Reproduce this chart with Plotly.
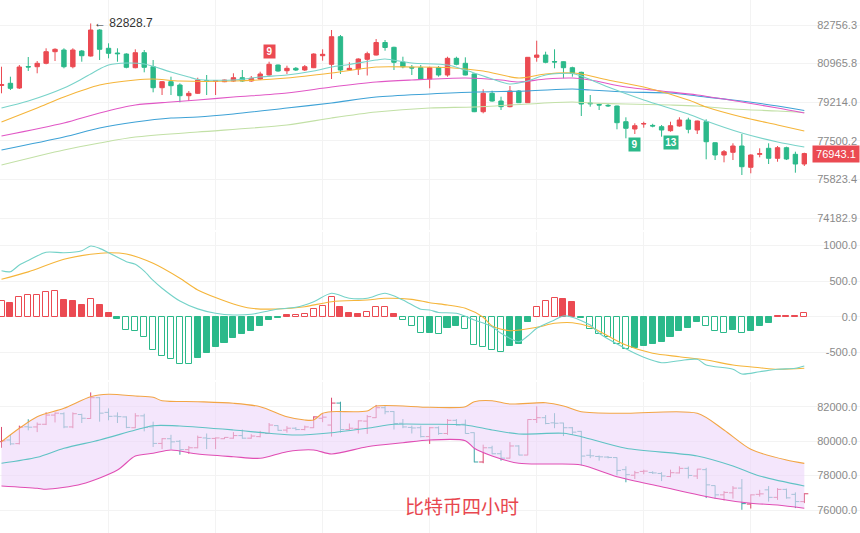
import math
import plotly.graph_objects as go
from plotly.subplots import make_subplots

# ---------------- data ----------------
open_ = [79968, 80067, 79854, 80833, 80824, 80980, 81514, 81592, 80824, 81546,
         81315, 82522, 81671, 81454, 81407, 80778, 81468, 80824, 79868, 80140,
         79990, 79507, 79615, 80185, 80158, 80140, 80172, 80322, 80172, 80263,
         80445, 80902, 80641, 80751, 80673, 80778, 81329, 80934, 82210, 80673,
         80719, 81163, 81361, 81940, 81717, 81039, 80797, 80778, 80263, 80778,
         80445, 81209, 80980, 80491, 78789, 79615, 79268, 79013, 79719, 79192,
         81255, 81361, 81062, 81053, 80778, 80568, 79179, 79111, 79076, 79044,
         78344, 78021, 78242, 78180, 78123, 77946, 78154, 78420, 77977, 78344,
         77417, 76880, 76998, 77273, 76346, 76910, 77172, 76736, 77199, 76910,
         76489]
high = [80824, 80368, 80902, 81269, 81085, 81671, 81671, 81671, 81671, 81592,
        82828.7, 82560, 81903, 81671, 81440, 81625, 81592, 81131, 80172, 80368,
        80067, 79719, 80322, 80445, 80217, 80231, 80523, 80673, 80400, 80595,
        81053, 80920, 80870, 80810, 80902, 81440, 81625, 82522, 82289, 81025,
        81209, 81514, 82102, 82056, 81745, 81283, 80902, 80902, 80824, 80856,
        81283, 81283, 81255, 80510, 79795, 79732, 79462, 79945, 79764, 81270,
        82024, 81514, 81625, 81070, 80824, 80595, 79538, 79165, 79134, 79060,
        78540, 78273, 78344, 78251, 78198, 78344, 78540, 78522, 78390, 78451,
        77430, 77098, 77391, 77800, 76910, 77172, 77391, 77273, 77243, 77024,
        76980]
low = [79615, 79764, 79809, 80627, 80523, 80934, 81085, 80751, 80751, 81053,
       81290, 81131, 81209, 81053, 80751, 80751, 80568, 79660, 79538, 79538,
       79210, 79268, 79584, 79538, 79538, 80120, 80140, 80140, 80140, 80217,
       80413, 80595, 80491, 80627, 80627, 80760, 81099, 80263, 80491, 80627,
       80445, 80422, 81340, 81560, 80673, 80751, 80445, 80217, 79841, 80368,
       80368, 80888, 80430, 78770, 78718, 79237, 78865, 78986, 79179, 79180,
       81053, 80980, 80751, 80295, 80368, 78598, 79013, 78865, 79000, 78008,
       77611, 77800, 78078, 78096, 77681, 77902, 78123, 77831, 77800, 76693,
       76662, 76562, 76662, 76014, 76087, 76780, 76489, 76588, 76662, 76113,
       76402]
close = [80013, 79841, 80810, 80810, 80980, 81514, 81625, 80824, 81592, 81329,
         82522, 81625, 81440, 81422, 80797, 81468, 80797, 79868, 80140, 79959,
         79507, 79615, 80217, 80158, 80185, 80217, 80322, 80172, 80295, 80491,
         80934, 80627, 80751, 80673, 80824, 81407, 81393, 82210, 80673, 80751,
         81177, 81422, 81940, 81708, 81025, 80824, 80765, 80263, 80778, 80445,
         81209, 80934, 80445, 78789, 79615, 79268, 79013, 79719, 79192, 81255,
         81361, 81025, 81039, 80778, 80523, 79134, 79147, 79089, 79053, 78300,
         78052, 78167, 78260, 78154, 77977, 78167, 78420, 78008, 78375, 77461,
         76880, 77024, 77273, 76372, 76880, 76937, 76736, 77199, 76706, 76489,
         76943.1]

# moving averages on the price panel (candle index, value)
ma1_i = [0, 3, 7, 9, 10, 11, 12, 14, 16, 19, 21, 22, 26, 29, 32, 35, 37, 39, 42, 43, 46,
         50, 52, 55, 57, 59, 61, 64, 65, 68, 72, 77, 79, 83, 87, 90]
ma1_v = [78955, 79268, 79854, 80263, 80491, 80719, 80902, 80994, 80948, 80582, 80354,
         80240, 80217, 80354, 80445, 80627, 80810, 80925, 81131, 81177, 80994, 80902,
         80673, 80263, 80036, 80172, 80445, 80514, 80400, 79899, 79313, 78687, 78375,
         77844, 77448, 77229]
ma2_i = [0, 4, 7, 11, 15, 17, 20, 26, 32, 37, 42, 46, 50, 54, 58, 61, 64, 65, 68, 72, 77,
         79, 83, 87, 90]
ma2_v = [78331, 78955, 79448, 79990, 80217, 80263, 80172, 80172, 80308, 80536, 80810,
         80810, 80787, 80627, 80308, 80491, 80536, 80491, 80217, 79899, 79313, 79000,
         78553, 78198, 77933]
ma3_i = [0, 7, 11, 15, 19, 22, 26, 32, 37, 42, 46, 52, 56, 58, 61, 64, 66, 70, 74, 78, 83,
         87, 90]
ma3_v = [77712, 78287, 78732, 79089, 79223, 79313, 79448, 79628, 79899, 80126, 80217,
         80308, 80217, 80126, 80263, 80308, 80217, 79899, 79719, 79538, 79223, 78955,
         78732]
ma4_i = [0, 7, 11, 15, 19, 22, 26, 32, 37, 42, 48, 53, 59, 64, 66, 70, 75, 78, 82, 87, 90]
ma4_v = [77098, 77668, 78065, 78331, 78509, 78553, 78687, 78955, 79179, 79448, 79584,
         79674, 79719, 79809, 79764, 79674, 79628, 79493, 79313, 79044, 78843]
ma5_i = [0, 7, 11, 15, 22, 32, 37, 42, 48, 53, 59, 64, 66, 70, 75, 78, 82, 87, 90]
ma5_v = [76446, 77098, 77404, 77668, 77888, 78198, 78509, 78776, 78955, 79000, 79134,
         79223, 79179, 79134, 79089, 79044, 78910, 78821, 78754]

price_ticks = [82756.3, 80965.8, 79214.0, 77500.2, 75823.4, 74182.9]
last_price = 76943.1
high_label = 82828.7

# MACD histogram (one per candle) and lines
macd_hist = [220, 187, 272, 304, 306, 351, 355, 234, 220, 164,
             243, 164, 56, -37, -187, -197, -290, -468, -553, -600,
             -665, -668, -576, -506, -422, -375, -295, -248, -197, -131,
             -47, -19, 19, 20, 37, 112, 155, 272, 140, 47,
             37, 66, 131, 133, 37, -47, -131, -234, -225, -244,
             -164, -131, -178, -398, -431, -468, -501, -407, -384, -80,
             131, 225, 258, 243, 201, -23, -173, -244, -290, -384,
             -459, -445, -412, -389, -361, -281, -197, -155, -70, -131,
             -201, -234, -187, -236, -197, -131, -94, 9, 8, 5,
             56]
dif_i = [0, 1, 2, 3, 5, 7, 9, 10, 11, 12, 14, 15, 16, 17, 18, 20, 22, 24, 26, 28, 30, 31,
         33, 35, 37, 39, 41, 43, 45, 47, 48, 49, 51, 53, 55, 56, 58, 59, 60, 62, 63, 64,
         66, 67, 70, 72, 74, 76, 78, 79, 82, 83, 85, 87, 89, 90]
dif_v = [646, 632, 726, 790, 905, 899, 927, 993, 960, 900, 773, 736, 640, 510, 400, 220,
         110, 48, 24, 34, 84, 108, 132, 211, 329, 259, 259, 329, 235, 104, 94, 60, 48,
         -46, -141, -233, -351, -271, -163, -46, 10, -8, -117, -233, -450, -570, -646,
         -618, -599, -679, -739, -805, -773, -739, -725, -693]
dea_i = [0, 3, 7, 10, 12, 14, 17, 20, 22, 26, 28, 31, 34, 37, 41, 43, 46, 48, 50, 52, 54,
         55, 57, 60, 62, 64, 66, 68, 70, 73, 76, 79, 82, 85, 87, 90]
dea_v = [525, 630, 806, 877, 899, 881, 750, 540, 375, 178, 118, 108, 140, 211, 235, 259,
         244, 197, 164, 118, -8, -131, -197, -149, -93, -84, -141, -271, -398, -514,
         -562, -608, -679, -717, -739, -725]
macd_ticks = [1000, 500, 0, -500]

# Bollinger bands on the lower panel
bbu_i = [0, 2, 4, 7, 10, 12, 15, 17, 18, 22, 26, 29, 32, 34, 35, 36, 37, 41, 42, 48, 52,
         53, 55, 57, 61, 63, 65, 70, 78, 81, 84, 88, 90]
bbu_v = [79968, 80746, 81419, 81907, 82581, 82720, 82621, 82546, 82348, 82290, 82197,
         82000, 81419, 81228, 81228, 81617, 81710, 81750, 82041, 81965, 82000, 82290,
         82348, 82157, 82232, 82041, 81710, 81617, 81617, 80647, 79526, 78905, 78711]
bbm_i = [0, 4, 7, 11, 15, 17, 20, 26, 30, 33, 37, 41, 44, 48, 52, 55, 58, 63, 65, 70, 78,
         82, 85, 90]
bbm_v = [78713, 79062, 79584, 80066, 80647, 80897, 80879, 80647, 80455, 80357, 80490,
         80746, 80978, 80978, 80937, 80647, 80415, 80455, 80258, 79584, 79137, 78557,
         77976, 77395]
bbl_i = [0, 4, 5, 9, 13, 15, 17, 19, 22, 26, 29, 32, 35, 37, 41, 45, 48, 52, 53, 55, 58,
         62, 65, 69, 74, 80, 84, 87, 90]
bbl_v = [77395, 77261, 77203, 77511, 78324, 79137, 79294, 79486, 79253, 79097, 79004,
         79387, 79486, 79253, 79677, 79910, 80066, 80026, 79584, 79137, 78713, 78673,
         78614, 77935, 77354, 76681, 76391, 76292, 76100]
bb_ticks = [82000, 80000, 78000, 76000]

title_text = "比特币四小时"

# ---------------- styling ----------------
RED = "#eb4a52"
GREEN = "#2bb98a"
NARROW = "Liberation Sans Narrow, Arial Narrow, Liberation Sans, Arial, sans-serif"
TICKC = "#8a8a8a"
GRID = "#f3f3f3"

idx = list(range(len(close)))
W, H = 860, 533

fig = make_subplots(rows=3, cols=1, shared_xaxes=True, vertical_spacing=0.0)

# price panel: moving averages
ma_styles = [(ma5_i, ma5_v, "#c2e0a6"), (ma4_i, ma4_v, "#3ea2d6"),
             (ma3_i, ma3_v, "#e158c6"), (ma2_i, ma2_v, "#f5b53a"),
             (ma1_i, ma1_v, "#78d3c9")]
for xi, yv, col in ma_styles:
    fig.add_trace(go.Scatter(x=xi, y=yv, mode="lines", line=dict(color=col, width=1.1, shape="spline", smoothing=0.8),
                             hoverinfo="skip", showlegend=False), row=1, col=1)

fig.add_trace(go.Candlestick(x=idx, open=open_, high=high, low=low, close=close,
                             increasing=dict(line=dict(color=RED, width=1), fillcolor=RED),
                             decreasing=dict(line=dict(color=GREEN, width=1), fillcolor=GREEN),
                             whiskerwidth=0, showlegend=False), row=1, col=1)

# MACD panel
bar_fill, bar_line = [], []
for k, v in enumerate(macd_hist):
    prev = abs(macd_hist[k - 1]) if k > 0 else 0
    col = RED if v >= 0 else GREEN
    hollow = abs(v) > prev
    bar_line.append(col)
    bar_fill.append("rgba(255,255,255,1)" if hollow else col)
fig.add_trace(go.Bar(x=idx, y=macd_hist, width=0.68,
                     marker=dict(color=bar_fill, line=dict(color=bar_line, width=1)),
                     showlegend=False, hoverinfo="skip"), row=2, col=1)
fig.add_trace(go.Scatter(x=dea_i, y=dea_v, mode="lines", line=dict(color="#f5b53a", width=1.1, shape="spline", smoothing=0.8),
                         showlegend=False, hoverinfo="skip"), row=2, col=1)
fig.add_trace(go.Scatter(x=dif_i, y=dif_v, mode="lines", line=dict(color="#74d2c8", width=1.1, shape="spline", smoothing=0.8),
                         showlegend=False, hoverinfo="skip"), row=2, col=1)

# Bollinger panel
fig.add_trace(go.Scatter(x=bbl_i, y=bbl_v, mode="lines", line=dict(color="#e04eb4", width=1.1, shape="spline", smoothing=0.8),
                         showlegend=False, hoverinfo="skip"), row=3, col=1)
fig.add_trace(go.Scatter(x=bbu_i, y=bbu_v, mode="lines", line=dict(color="#f2a546", width=1.1, shape="spline", smoothing=0.8),
                         fill="tonexty", fillcolor="rgba(236,214,250,0.6)",
                         showlegend=False, hoverinfo="skip"), row=3, col=1)
fig.add_trace(go.Scatter(x=bbm_i, y=bbm_v, mode="lines", line=dict(color="#5fc2c4", width=1.1, shape="spline", smoothing=0.8),
                         showlegend=False, hoverinfo="skip"), row=3, col=1)
fig.add_trace(go.Ohlc(x=idx, open=open_, high=high, low=low, close=close, tickwidth=0.45,
                      increasing=dict(line=dict(color="#d9486e", width=1)),
                      decreasing=dict(line=dict(color="#3fa5a6", width=1)),
                      showlegend=False), row=3, col=1)

# ---------------- axes / layout ----------------
x0 = -1.5 / 8.92
x1 = (W - 1.5) / 8.92
xgrid = [12, 24, 36, 48, 60, 72, 84]
for r in (1, 2, 3):
    fig.update_xaxes(range=[x0, x1], tickvals=xgrid, showticklabels=False, ticks="",
                     showgrid=True, gridcolor=GRID, gridwidth=1, zeroline=False,
                     showline=False, rangeslider=dict(visible=False), row=r, col=1)

def dom(top_px, bot_px):
    return [1 - bot_px / H, 1 - top_px / H]

axis_common = dict(side="right", ticklabelposition="inside", ticks="", showline=False,
                   zeroline=False, showgrid=True, gridcolor=GRID,
                   tickfont=dict(family=NARROW, size=11, color=TICKC))

fig.update_layout(
    yaxis=dict(domain=dom(0, 230), type="log", range=[4.867360, 4.923954],
               tickvals=price_ticks, ticktext=[f"{t:.1f}" for t in price_ticks], **axis_common),
    yaxis2=dict(domain=dom(232, 380), range=[-889.4, 1190.0],
                tickvals=macd_ticks, ticktext=[f"{t:.1f}" for t in macd_ticks], **axis_common),
    yaxis3=dict(domain=dom(382, H), range=[74666, 83434],
                tickvals=bb_ticks, ticktext=[f"{t:.1f}" for t in bb_ticks], **axis_common),
)

ann = []
ann.append(dict(x=idx[high.index(high_label)], y=math.log10(high_label), xref="x", yref="y",
                text="← " + f"{high_label:.1f}", showarrow=False, xanchor="left", yanchor="middle",
                xshift=1, font=dict(family=NARROW, size=12, color="#333333")))
ann.append(dict(x=1, y=math.log10(last_price), xref="paper", yref="y", text=f"{last_price:.1f}",
                showarrow=False, xanchor="right", yanchor="middle", bgcolor=RED, width=44, height=14,
                font=dict(family=NARROW, size=11, color="white")))
ann.append(dict(x=30, y=math.log10(81523), xref="x", yref="y", text="<b>9</b>", showarrow=False,
                bgcolor=RED, width=9, height=11, font=dict(family="Liberation Sans", size=10, color="white")))
ann.append(dict(x=71, y=math.log10(77360), xref="x", yref="y", text="<b>9</b>", showarrow=False,
                bgcolor=GREEN, width=9, height=11, font=dict(family="Liberation Sans", size=10, color="white")))
ann.append(dict(x=75, y=math.log10(77448), xref="x", yref="y", text="<b>13</b>", showarrow=False,
                bgcolor=GREEN, width=12, height=11, font=dict(family="Liberation Sans", size=10, color="white")))
ann.append(dict(x=462 / W, y=1 - 505 / H, xref="paper", yref="paper", text=title_text, showarrow=False,
                xanchor="center", yanchor="middle",
                font=dict(family="Noto Sans CJK SC", size=19, color="#e8474f")))

fig.update_layout(width=W, height=H, margin=dict(l=0, r=0, t=0, b=0),
                  paper_bgcolor="white", plot_bgcolor="white", showlegend=False,
                  bargap=0, annotations=ann, hovermode=False)

fig.write_html("out.html")
